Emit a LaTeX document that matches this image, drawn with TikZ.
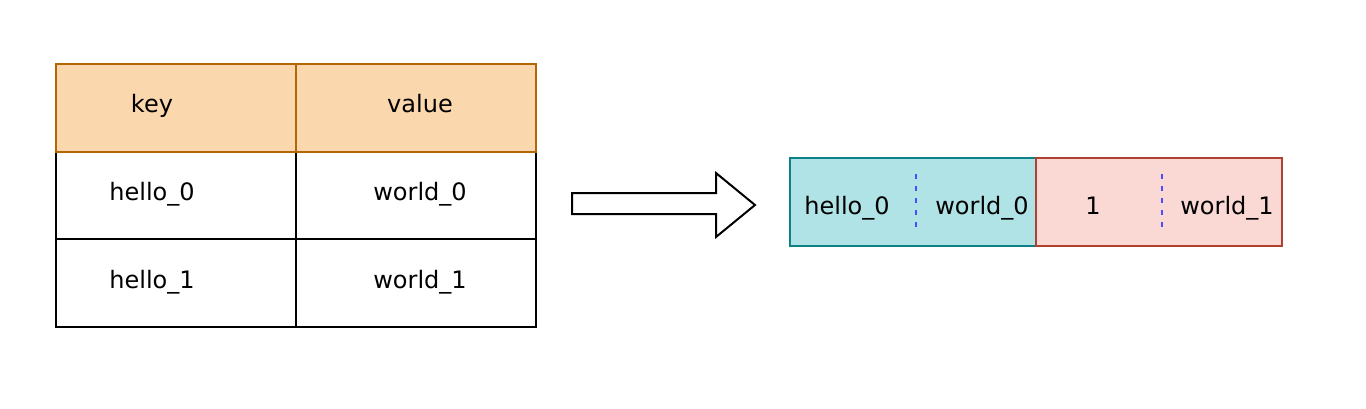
\documentclass[tikz,border=0pt]{standalone}
\usepackage{fontspec}
\setmainfont{DejaVu Sans}
\begin{document}
\begin{tikzpicture}[x=1pt,y=-1pt,
  cell/.style={draw=black, line width=2pt, minimum width=240pt, minimum height=88pt, anchor=north west, inner sep=0pt},
  head/.style={cell, fill=headfill, draw=headline},
  seg/.style={line width=2pt, minimum width=246pt, minimum height=88pt, anchor=north west, inner sep=0pt},
  lbl/.style={font=\fontsize{24}{28}\selectfont, inner sep=0pt, anchor=base},
  sep/.style={draw=sepblue, line width=2pt, dash pattern=on 5pt off 7pt}]
\definecolor{headfill}{HTML}{FAD7AC}
\definecolor{headline}{HTML}{B46504}
\definecolor{tealfill}{HTML}{B0E3E6}
\definecolor{tealline}{HTML}{0E8088}
\definecolor{redfill}{HTML}{FAD9D5}
\definecolor{redline}{HTML}{AE4132}
\definecolor{sepblue}{HTML}{4D4DFF}
\useasboundingbox (0,0) rectangle (1366,408);
% table
\node[cell] (r1a) at (55,150) {};
\node[cell] (r1b) at (295,150) {};
\node[cell] (r2a) at (55,238) {};
\node[cell] (r2b) at (295,238) {};
\node[head] (ha) at (55,63) {};
\node[head] (hb) at (295,63) {};
\node[lbl] at (152,112) {key};
\node[lbl] at (420,112) {value};
\node[lbl] at (152,200) {hello\_0};
\node[lbl] at (420,200) {world\_0};
\node[lbl] at (152,288) {hello\_1};
\node[lbl] at (420,288) {world\_1};
% arrow
\draw[line width=2pt, line join=miter, fill=white] (572,193) -- (716,193) -- (716,173) -- (755,205) -- (716,237) -- (716,214) -- (572,214) -- cycle;
% right boxes
\node[seg, fill=tealfill, draw=tealline] (left) at (789,157) {};
\node[seg, fill=redfill, draw=redline] (right) at (1035,157) {};
\node[lbl] (t1) at (847,214) {hello\_0};
\node[lbl] (t2) at (982,214) {world\_0};
\node[lbl] (t3) at (1093,214) {1};
\node[lbl] (t4) at (1227,214) {world\_1};
\coordinate (s1a) at (916,174); \coordinate (s1b) at (916,229);
\coordinate (s2a) at (1162,174); \coordinate (s2b) at (1162,229);
\draw[sep] (s1a) -- (s1b);
\draw[sep] (s2a) -- (s2b);
\end{tikzpicture}
\end{document}
